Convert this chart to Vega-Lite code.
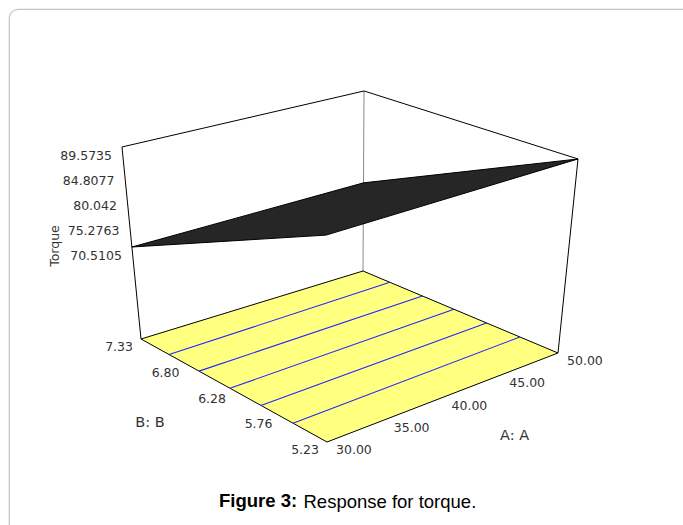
{
  "$schema": "https://vega.github.io/schema/vega-lite/v6.json",
  "width": 684,
  "height": 528,
  "autosize": "none",
  "padding": {"left": 9, "top": 9, "right": -10, "bottom": -12},
  "background": "white",
  "view": {"stroke": "#c4c4c4", "strokeWidth": 1.2, "cornerRadius": 9, "fill": "white"},
  "title": {
    "text": "Figure 3:",
    "orient": "bottom",
    "frame": "group",
    "anchor": "start",
    "dx": 210,
    "offset": -30,
    "baseline": "alphabetic",
    "font": "Liberation Sans",
    "fontSize": 18.5,
    "fontWeight": "bold",
    "color": "#000000"
  },
  "data": {
    "values": [
      {"part": "box", "edge": "left", "k": 0, "A": 30, "B": 7.33},
      {"part": "box", "edge": "left", "k": 1, "A": 30, "B": 7.33, "Torque": 89.5735},
      {"part": "box", "edge": "back", "k": 0, "A": 50, "B": 7.33},
      {"part": "box", "edge": "back", "k": 1, "A": 50, "B": 7.33, "Torque": 89.5735},
      {"part": "box", "edge": "right", "k": 0, "A": 50, "B": 5.23},
      {"part": "box", "edge": "right", "k": 1, "A": 50, "B": 5.23, "Torque": 89.5735},
      {"part": "box", "edge": "top", "k": 0, "A": 30, "B": 7.33, "Torque": 89.5735},
      {"part": "box", "edge": "top", "k": 1, "A": 50, "B": 7.33, "Torque": 89.5735},
      {"part": "box", "edge": "top", "k": 2, "A": 50, "B": 5.23, "Torque": 89.5735},

      {"part": "floor", "k": 0, "A": 30, "B": 5.23},
      {"part": "floor", "k": 1, "A": 50, "B": 5.23},
      {"part": "floor", "k": 2, "A": 50, "B": 7.33},
      {"part": "floor", "k": 3, "A": 30, "B": 7.33},

      {"part": "contour", "level": 73.69, "A": 30, "B": 7.013},
      {"part": "contour", "level": 73.69, "A": 50, "B": 7.04},
      {"part": "contour", "level": 76.87, "A": 30, "B": 6.675},
      {"part": "contour", "level": 76.87, "A": 50, "B": 6.69},
      {"part": "contour", "level": 80.04, "A": 30, "B": 6.326},
      {"part": "contour", "level": 80.04, "A": 50, "B": 6.35},
      {"part": "contour", "level": 83.22, "A": 30, "B": 5.976},
      {"part": "contour", "level": 83.22, "A": 50, "B": 6.0},
      {"part": "contour", "level": 86.4, "A": 30, "B": 5.614},
      {"part": "contour", "level": 86.4, "A": 50, "B": 5.64},

      {"part": "surface", "k": 0, "A": 30, "B": 7.33, "Torque": 70.5105},
      {"part": "surface", "k": 1, "A": 30, "B": 5.23, "Torque": 89.2},
      {"part": "surface", "k": 2, "A": 50, "B": 5.23, "Torque": 89.5735},
      {"part": "surface", "k": 3, "A": 50, "B": 7.33, "Torque": 70.9},

      {"part": "tickT", "label": "89.5735", "A": 30, "B": 7.33, "Torque": 89.5735},
      {"part": "tickT", "label": "84.8077", "A": 30, "B": 7.33, "Torque": 84.8077},
      {"part": "tickT", "label": "80.042", "A": 30, "B": 7.33, "Torque": 80.042},
      {"part": "tickT", "label": "75.2763", "A": 30, "B": 7.33, "Torque": 75.2763},
      {"part": "tickT", "label": "70.5105", "A": 30, "B": 7.33, "Torque": 70.5105},

      {"part": "tickB", "label": "7.33", "A": 30, "B": 7.33},
      {"part": "tickB", "label": "6.80", "A": 30, "B": 6.805},
      {"part": "tickB", "label": "6.28", "A": 30, "B": 6.28},
      {"part": "tickB", "label": "5.76", "A": 30, "B": 5.755},
      {"part": "tickB", "label": "5.23", "A": 30, "B": 5.23},

      {"part": "tickA", "label": "30.00", "A": 30, "B": 5.23},
      {"part": "tickA", "label": "35.00", "A": 35, "B": 5.23},
      {"part": "tickA", "label": "40.00", "A": 40, "B": 5.23},
      {"part": "tickA", "label": "45.00", "A": 45, "B": 5.23},
      {"part": "tickA", "label": "50.00", "A": 50, "B": 5.23},

      {"part": "titleT", "label": "Torque", "A": 30, "B": 7.33, "Torque": 75.2763},
      {"part": "titleB", "label": "B: B", "A": 30, "B": 6.28},
      {"part": "titleA", "label": "A: A", "A": 40, "B": 5.23}
    ]
  },
  "transform": [
    {"calculate": "(datum.A - 30) / 20", "as": "u"},
    {"calculate": "(datum.B - 5.23) / 2.1", "as": "v"},
    {"calculate": "isValid(datum.Torque) ? (datum.Torque - 52.98) / 36.59 : 0", "as": "w"},
    {"calculate": "327 + 231 * datum.u - 186 * datum.v - 9 * datum.u * datum.v", "as": "fx"},
    {"calculate": "442 - 89 * datum.u - 103 * datum.v + 21 * datum.u * datum.v", "as": "fy"},
    {"calculate": "326 + 252 * datum.u - 204 * datum.v - 10 * datum.u * datum.v", "as": "tx"},
    {"calculate": "233 - 74 * datum.u - 86 * datum.v + 18 * datum.u * datum.v", "as": "ty"},
    {"calculate": "datum.fx + (datum.tx - datum.fx) * datum.w", "as": "px"},
    {"calculate": "datum.fy + (datum.ty - datum.fy) * datum.w", "as": "py"}
  ],
  "encoding": {
    "x": {
      "field": "px", "type": "quantitative",
      "scale": {"domain": [9, 693], "nice": false, "zero": false},
      "axis": {
        "domain": false, "labels": false, "ticks": false, "grid": false,
        "title": "Response for torque.",
        "titleFont": "Liberation Sans", "titleFontSize": 18.5, "titleFontWeight": "normal", "titleColor": "#000000",
        "titleAnchor": "start", "titleAlign": "left", "titleBaseline": "alphabetic",
        "titleX": 294, "titleY": -30
      }
    },
    "y": {"field": "py", "type": "quantitative", "scale": {"domain": [9, 537], "reverse": true, "nice": false, "zero": false}, "axis": null}
  },
  "layer": [
    {
      "transform": [{"filter": "datum.part == 'box'"}],
      "mark": {"type": "line", "strokeWidth": 1},
      "encoding": {
        "detail": {"field": "edge"},
        "order": {"field": "k", "type": "quantitative"},
        "color": {"field": "edge", "type": "nominal", "scale": {"domain": ["left", "back", "right", "top"], "range": ["#000000", "#8a8a8a", "#000000", "#000000"]}, "legend": null}
      }
    },
    {
      "transform": [{"filter": "datum.part == 'floor'"}],
      "mark": {"type": "line", "interpolate": "linear-closed", "fill": "#ffff80", "stroke": "#000000", "strokeWidth": 1},
      "encoding": {"order": {"field": "k", "type": "quantitative"}}
    },
    {
      "transform": [{"filter": "datum.part == 'contour'"}],
      "mark": {"type": "line", "stroke": "#2323ff", "strokeWidth": 1.1},
      "encoding": {"detail": {"field": "level"}, "order": {"field": "A", "type": "quantitative"}}
    },
    {
      "transform": [{"filter": "datum.part == 'surface'"}],
      "mark": {"type": "line", "interpolate": "linear-closed", "fill": "#262626", "stroke": "#000000", "strokeWidth": 1},
      "encoding": {"order": {"field": "k", "type": "quantitative"}}
    },
    {
      "transform": [{"filter": "datum.part == 'tickT'"}],
      "mark": {"type": "text", "align": "right", "baseline": "middle", "dx": -10, "dy": 9, "font": "DejaVu Sans", "fontSize": 12.5, "fill": "#333333"},
      "encoding": {"text": {"field": "label"}}
    },
    {
      "transform": [{"filter": "datum.part == 'tickB'"}],
      "mark": {"type": "text", "align": "right", "baseline": "middle", "dx": -8, "dy": 8, "font": "DejaVu Sans", "fontSize": 12.5, "fill": "#333333"},
      "encoding": {"text": {"field": "label"}}
    },
    {
      "transform": [{"filter": "datum.part == 'tickA'"}],
      "mark": {"type": "text", "align": "left", "baseline": "middle", "dx": 9, "dy": 8, "font": "DejaVu Sans", "fontSize": 12.5, "fill": "#333333"},
      "encoding": {"text": {"field": "label"}}
    },
    {
      "transform": [{"filter": "datum.part == 'titleT'"}],
      "mark": {"type": "text", "align": "center", "baseline": "middle", "angle": 270, "dx": -24, "dy": -74, "font": "DejaVu Sans", "fontSize": 12.5, "fill": "#333333"},
      "encoding": {"text": {"field": "label"}}
    },
    {
      "transform": [{"filter": "datum.part == 'titleB'"}],
      "mark": {"type": "text", "align": "center", "baseline": "middle", "dx": -84, "dy": 32, "font": "DejaVu Sans", "fontSize": 14.5, "fill": "#333333"},
      "encoding": {"text": {"field": "label"}}
    },
    {
      "transform": [{"filter": "datum.part == 'titleA'"}],
      "mark": {"type": "text", "align": "center", "baseline": "middle", "dx": 72, "dy": 38, "font": "DejaVu Sans", "fontSize": 14.5, "fill": "#333333"},
      "encoding": {"text": {"field": "label"}}
    }
  ]
}
